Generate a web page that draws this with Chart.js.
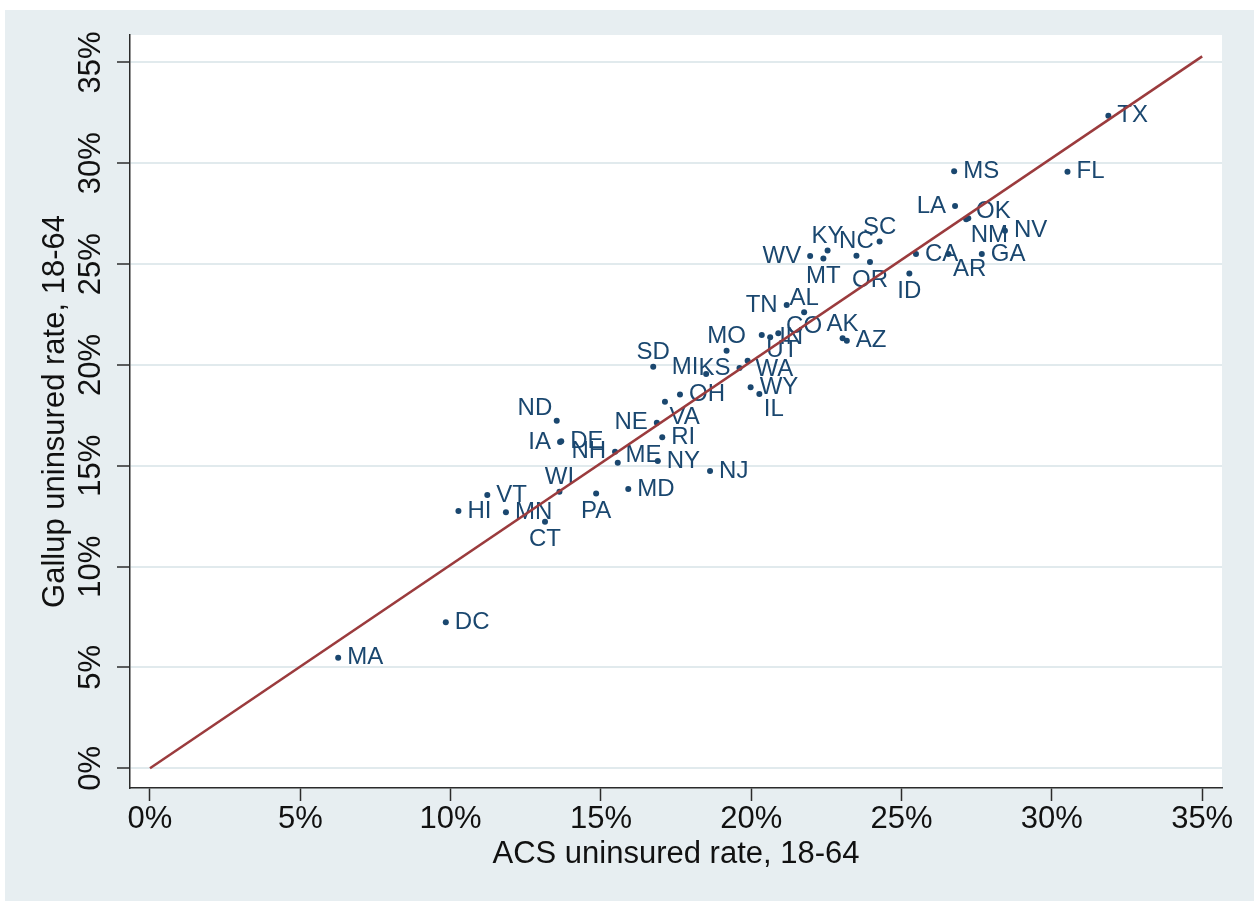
<!DOCTYPE html>
<html lang="en">
<head>
    <meta charset="UTF-8">
    <title>ACS vs Gallup uninsured rate</title>
    <script src="https://cdn.jsdelivr.net/npm/chart.js"></script>
    <style>
      body { margin: 0; background: #fff; }
      canvas { display: block; }
    </style>
</head>
<body>
    <canvas id="uninsuredChart" width="1254" height="907"></canvas>

    <script>
        // data (percent, ages 18-64)
        const states = ['MA', 'DC', 'HI', 'MN', 'CT', 'VT', 'WI', 'PA', 'MD', 'NJ',
                        'NY', 'ME', 'NH', 'IA', 'DE', 'ND', 'NE', 'RI', 'VA', 'OH',
                        'SD', 'MI', 'KS', 'WA', 'MO', 'WY', 'IL', 'UT', 'IN', 'CO',
                        'TN', 'AL', 'AK', 'AZ', 'WV', 'MT', 'KY', 'NC', 'OR', 'SC',
                        'ID', 'CA', 'AR', 'GA', 'NV', 'NM', 'OK', 'LA', 'MS', 'FL', 'TX'];
        const acsRate = [6.26, 9.84, 10.26, 11.84, 13.14, 11.22, 13.62, 14.84, 15.91, 18.63,
                         16.89, 15.56, 15.47, 13.64, 13.68, 13.53, 16.86, 17.04, 17.13, 17.63,
                         16.74, 18.50, 19.61, 19.88, 19.18, 19.98, 20.27, 20.35, 20.63, 20.90,
                         21.18, 21.76, 23.04, 23.18, 21.96, 22.40, 22.54, 23.50, 23.95, 24.27,
                         25.26, 25.48, 26.56, 27.67, 28.44, 27.15, 27.22, 26.78, 26.75, 30.52, 31.88];
        const gallupRate = [5.48, 7.24, 12.76, 12.69, 12.23, 13.55, 13.71, 13.63, 13.85, 14.74,
                            15.24, 15.15, 15.70, 16.18, 16.22, 17.23, 17.13, 16.41, 18.18, 18.54,
                            19.91, 19.55, 19.85, 20.21, 20.70, 18.90, 18.56, 21.48, 21.37, 21.57,
                            22.97, 22.61, 21.32, 21.20, 25.40, 25.28, 25.67, 25.42, 25.10, 26.12,
                            24.54, 25.50, 25.50, 25.50, 26.65, 27.22, 27.27, 27.88, 29.61, 29.58, 32.35];
        // marker label position, clock style (3 = right, 12 = above ...)
        const labelClock = [3, 3, 3, 3, 6, 3, 12, 6, 3, 3,
                            3, 2, 9, 9, 3, 11, 9, 3, 5, 3,
                            12, 10, 9, 4, 12, 3, 5, 5, 3, 2,
                            9, 12, 12, 3, 9, 6, 12, 12, 6, 12,
                            6, 3, 5, 3, 3, 5, 2, 9, 3, 3, 3];

        // reference line
        const lineX = [0, 35];
        const lineY = [0, 35.3];

        const tickValues = [0, 5, 10, 15, 20, 25, 30, 35];
        const tickLabels = ['0%', '5%', '10%', '15%', '20%', '25%', '30%', '35%'];

        const fontFamily = '"Liberation Sans", Arial, Helvetica, sans-serif';
        const navy = '#1a476f';
        const axisColor = '#2b2b2b';

        Chart.defaults.font.family = fontFamily;

        // graph region + plot region backgrounds
        const backgroundPlugin = {
            id: 'stataBackground',
            beforeDraw(chart) {
                const { ctx, width, height, chartArea } = chart;
                ctx.save();
                ctx.fillStyle = '#ffffff';
                ctx.fillRect(0, 0, width, height);
                ctx.fillStyle = '#e7eef1';
                ctx.fillRect(5, 10, width - 5, height - 16);
                ctx.fillStyle = '#ffffff';
                ctx.fillRect(chartArea.left, chartArea.top,
                             chartArea.right - chartArea.left, chartArea.bottom - chartArea.top);
                ctx.restore();
            }
        };

        // state abbreviations next to each marker
        const labelPlugin = {
            id: 'stateLabels',
            afterDatasetDraw(chart, args) {
                if (args.index !== 1) return;
                const ctx = chart.ctx;
                ctx.save();
                ctx.font = '24px ' + fontFamily;
                ctx.fillStyle = navy;
                ctx.textBaseline = 'middle';
                args.meta.data.forEach((pt, i) => {
                    const a = labelClock[i] * Math.PI / 6;
                    const s = Math.sin(a);
                    const c = Math.cos(a);
                    const x = pt.x + 9 * s;
                    const y = pt.y - (c > 0 ? 14 : 18) * c;
                    ctx.textAlign = s > 0.1 ? 'left' : (s < -0.1 ? 'right' : 'center');
                    ctx.fillText(states[i], x, y);
                });
                ctx.restore();
            }
        };

        const setTicks = scale => {
            scale.ticks = tickValues.map(v => ({ value: v }));
        };
        const tickText = v => tickLabels[tickValues.indexOf(v)];

        const ctx = document.getElementById('uninsuredChart').getContext('2d');

        const uninsuredChart = new Chart(ctx, {
            type: 'scatter',
            data: {
                datasets: [{
                    label: 'Reference line',
                    data: lineX.map((x, i) => ({ x: x, y: lineY[i] })),
                    showLine: true,
                    borderColor: '#9b3b3d',
                    borderWidth: 2.5,
                    pointRadius: 0,
                    order: 0
                }, {
                    label: 'States',
                    data: acsRate.map((x, i) => ({ x: x, y: gallupRate[i] })),
                    backgroundColor: navy,
                    borderWidth: 0,
                    pointRadius: 3,
                    order: 1
                }]
            },
            options: {
                responsive: false,
                animation: false,
                layout: {
                    padding: { left: 0, right: 32, top: 35, bottom: 0 }
                },
                plugins: {
                    legend: { display: false },
                    tooltip: { enabled: false }
                },
                scales: {
                    x: {
                        type: 'linear',
                        min: -0.665,
                        max: 35.66,
                        afterBuildTicks: setTicks,
                        afterFit: scale => { scale.height = 119; },
                        grid: {
                            drawOnChartArea: false,
                            tickLength: 13,
                            tickColor: axisColor,
                            tickWidth: 1.5
                        },
                        border: { display: true, color: axisColor, width: 1.5 },
                        ticks: {
                            callback: tickText,
                            color: '#111',
                            font: { size: 31, lineHeight: 1 },
                            padding: 3,
                            maxRotation: 0,
                            autoSkip: false
                        },
                        title: {
                            display: true,
                            text: 'ACS uninsured rate, 18-64',
                            color: '#111',
                            font: { size: 31, lineHeight: 1.2 },
                            padding: { top: 0, bottom: 34 }
                        }
                    },
                    y: {
                        type: 'linear',
                        min: -0.977,
                        max: 36.36,
                        afterBuildTicks: setTicks,
                        afterFit: scale => { scale.width = 130; },
                        grid: {
                            color: '#e1eaed',
                            lineWidth: 2,
                            tickLength: 13,
                            tickColor: axisColor,
                            tickWidth: 1.5
                        },
                        border: { display: true, color: axisColor, width: 1.5 },
                        ticks: {
                            callback: tickText,
                            color: '#111',
                            font: { size: 31, lineHeight: 1 },
                            padding: -5,
                            minRotation: 90,
                            maxRotation: 90,
                            crossAlign: 'center',
                            autoSkip: false
                        },
                        title: {
                            display: true,
                            text: 'Gallup uninsured rate, 18-64',
                            color: '#111',
                            font: { size: 31, lineHeight: 1.2 },
                            padding: { top: 37, bottom: 0 }
                        }
                    }
                }
            },
            plugins: [backgroundPlugin, labelPlugin]
        });
    </script>
</body>
</html>
